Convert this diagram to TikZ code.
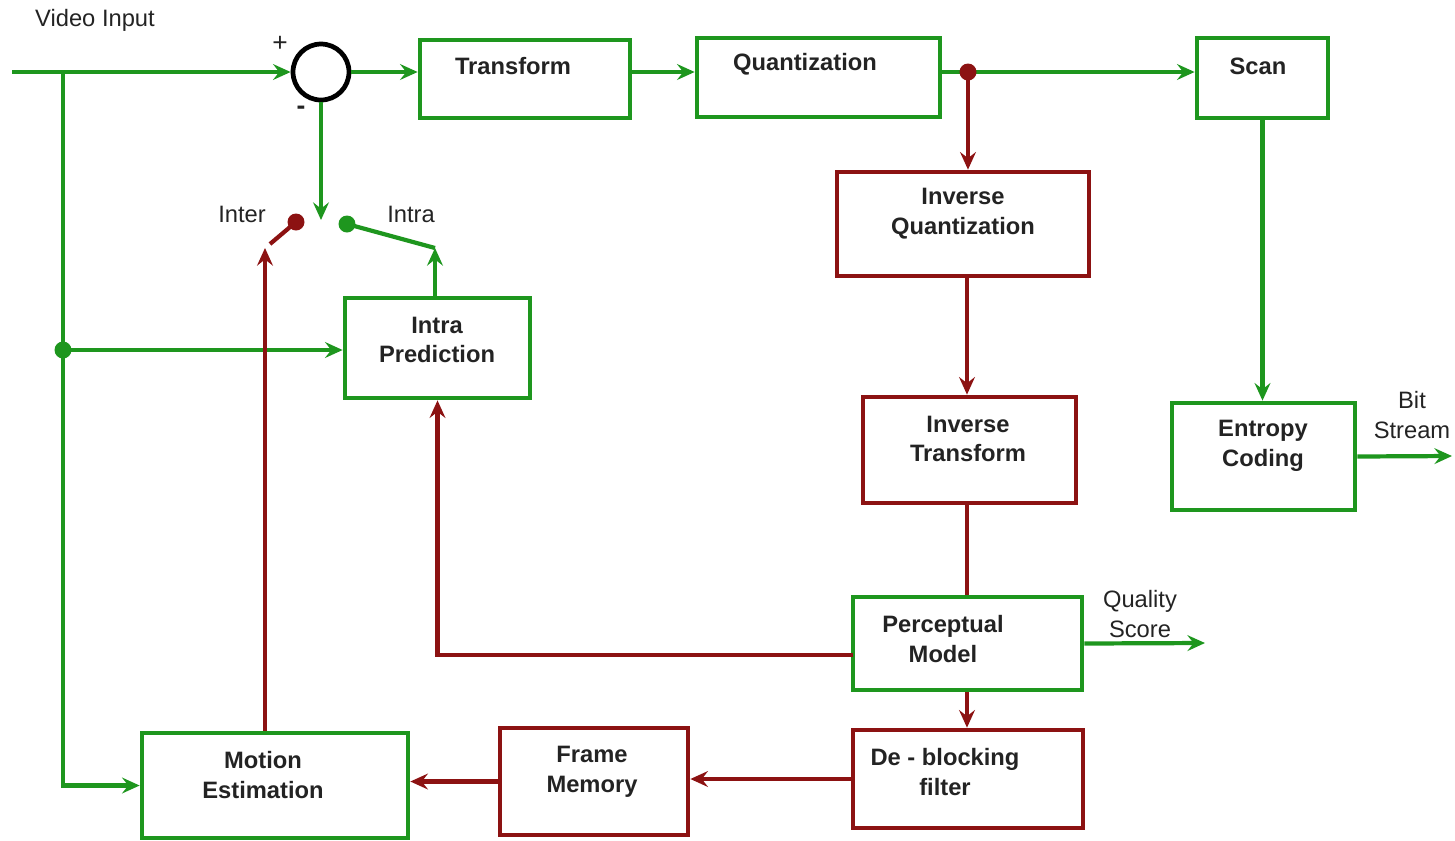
\documentclass[tikz,border=0pt]{standalone}
\usepackage{fontspec}
\setmainfont{Liberation Sans}
\usetikzlibrary{arrows.meta,calc}
\definecolor{gr}{RGB}{30,150,30}
\definecolor{rd}{RGB}{140,18,18}
\definecolor{tx}{RGB}{35,35,35}
\begin{document}
\begin{tikzpicture}[x=0.02cm,y=-0.02cm,
 gbox/.style={draw=gr,line width=2.7pt,rectangle,inner sep=0pt},
 rbox/.style={draw=rd,line width=2.7pt,rectangle,inner sep=0pt},
 bt/.style={font=\fontsize{13.5}{17}\selectfont\bfseries,text=tx,align=center,inner sep=0pt},
 lt/.style={font=\fontsize{13.5}{17}\selectfont,text=tx,align=center,inner sep=0pt},
 gl/.style={draw=gr,line width=2.4pt},
 rl/.style={draw=rd,line width=2.4pt},
 tip/.style={-{Stealth[length=10pt,width=9pt,inset=3.5pt]}},
 gdot/.style={circle,fill=gr,inner sep=0pt,minimum size=0.34cm},
 rdot/.style={circle,fill=rd,inner sep=0pt,minimum size=0.34cm},
]
\useasboundingbox (0,0) rectangle (1455,840);

% boxes
\node[gbox,minimum width=4.2cm,minimum height=1.56cm] (tr) at (525,79) {};
\node[gbox,minimum width=4.86cm,minimum height=1.58cm] (q) at (818.5,77.5) {};
\node[gbox,minimum width=2.62cm,minimum height=1.6cm] (sc) at (1262.5,78) {};
\node[gbox,minimum width=3.66cm,minimum height=2.14cm] (en) at (1263.5,456.5) {};
\node[rbox,minimum width=5.04cm,minimum height=2.08cm] (iq) at (963,224) {};
\node[rbox,minimum width=4.26cm,minimum height=2.12cm] (it) at (969.5,450) {};
\node[gbox,minimum width=4.58cm,minimum height=1.86cm] (pm) at (967.5,643.5) {};
\node[rbox,minimum width=4.6cm,minimum height=1.96cm] (db) at (968,779) {};
\node[rbox,minimum width=3.76cm,minimum height=2.14cm] (fm) at (594,781.5) {};
\node[gbox,minimum width=5.32cm,minimum height=2.1cm] (me) at (275,785.5) {};
\node[gbox,minimum width=3.7cm,minimum height=2.0cm] (ip) at (437.5,348) {};
\node[circle,draw=black,line width=2.7pt,minimum size=1.12cm,inner sep=0pt] (sum) at (321,72) {};

% box texts
\node[bt] (trt) at (513,66) {Transform};
\node[bt] (qt) at (805,64) {Quantization};
\node[bt] (sct) at (1258,66) {Scan};
\node[bt] (ent) at (1263,446) {Entropy\\Coding};
\node[bt] (iqt) at (963,214) {Inverse\\Quantization};
\node[bt] (itt) at (968,439) {Inverse\\Transform};
\node[bt] (pmt) at (943,639) {Perceptual\\Model};
\node[bt] (dbt) at (945,772) {De - blocking\\filter};
\node[bt] (fmt) at (592,772) {Frame\\Memory};
\node[bt] (met) at (263,775) {Motion\\Estimation};
\node[bt] (ipt) at (437,340) {Intra\\Prediction};

% labels
\node[lt] (vil) at (95,20) {Video Input};
\node[lt,font=\fontsize{15}{17}\selectfont] (plus) at (280,44) {+};
\node[lt,font=\fontsize{15}{17}\selectfont\bfseries] (minus) at (301,110) {-};
\node[lt] (interl) at (242,214) {Inter};
\node[lt] (intral) at (411,214) {Intra};
\node[lt] (bsl) at (1412,415) {Bit\\Stream};
\node[lt] (qsl) at (1140,614) {Quality\\Score};

% coordinates
\coordinate (vin) at (12,72);
\coordinate (j1) at (63,72);
\coordinate (jd) at (63,350);
\coordinate (sw) at (321,220);
\coordinate (qd) at (968,72);
\coordinate (bs) at (1452,456);
\coordinate (qs) at (1205,643);
\coordinate (vx) at (967,0);
\coordinate (pml) at (853,655);
\coordinate (mx) at (265,0);
\coordinate (intertip) at (265,248);
\coordinate (intertail) at (270,244);
\coordinate (interdot) at (296,222);
\coordinate (intradot) at (347,224);
\coordinate (intratip) at (435,248);

% green connectors
\draw[gl,tip] (vin) -- (sum.west);
\draw[gl,tip] (j1) |- (me.west);
\draw[gl,tip] (jd) -- (jd -| ip.west);
\draw[gl,tip] (sum.south) -- (sw);
\draw[gl,tip] (sum.east) -- (sum.east -| tr.west);
\draw[gl,tip] (sum.east -| tr.east) -- (sum.east -| q.west);
\draw[gl] (sum.east -| q.east) -- (qd);
\draw[gl,tip] (qd) -- (qd -| sc.west);
\draw[gl,tip] (sc.south) -- (sc.south |- en.north);
\draw[gl,tip] (en.east) -- (bs);
\draw[gl,tip] (pm.east) -- (qs);
\draw[gl] (intradot) -- (intratip);
\draw[gl,tip] (ip.north -| intratip) -- (intratip);

% red connectors
\draw[rl,tip] (qd) -- (qd |- iq.north);
\draw[rl,tip] (vx |- iq.south) -- (vx |- it.north);
\draw[rl] (vx |- it.south) -- (vx |- pm.north);
\draw[rl,tip] (pml) -| (ip.south);
\draw[rl,tip] (vx |- pm.south) -- (vx |- db.north);
\draw[rl,tip] (db.west) -- (db.west -| fm.east);
\draw[rl,tip] (fm.west) -- (fm.west -| me.east);
\draw[rl,tip] (mx |- me.north) -- (intertip);
\draw[rl] (intertail) -- (interdot);

% dots
\node[rdot] (qdot) at (qd) {};
\node[rdot] (idot) at (interdot) {};
\node[gdot] (adot) at (intradot) {};
\node[gdot] (jdot) at (jd) {};
\end{tikzpicture}
\end{document}
